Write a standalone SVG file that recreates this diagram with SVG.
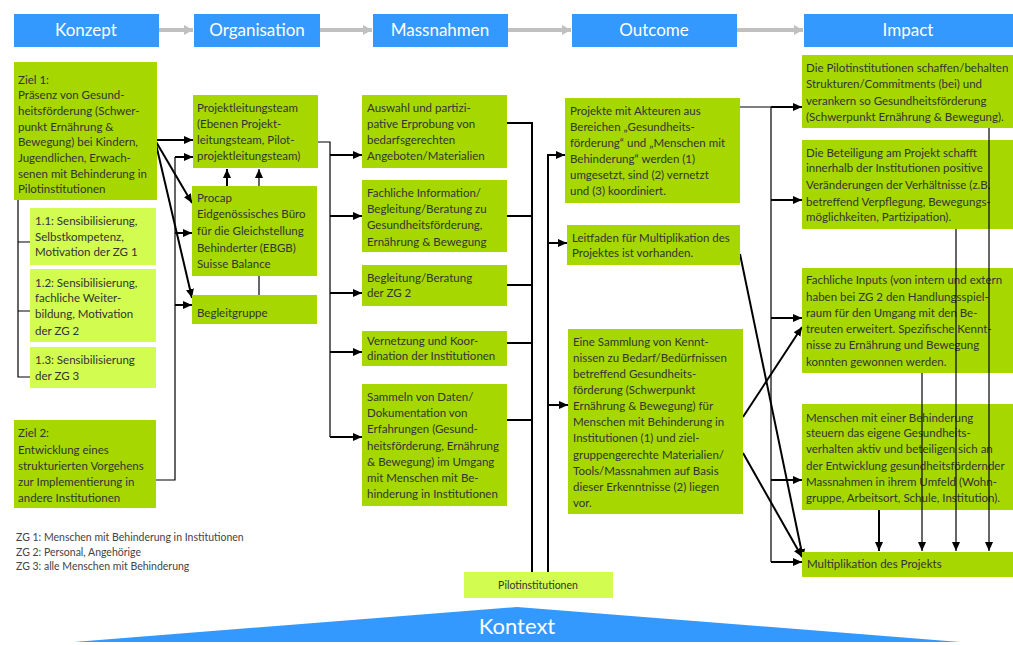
<svg xmlns="http://www.w3.org/2000/svg" width="1013" height="645" viewBox="0 0 1013 645">
<style>
.hd{fill:#3399ff}
.ht{fill:#fff;font-family:Lato,"Liberation Sans",sans-serif;font-size:17px;text-anchor:middle}
.g{fill:#a6d800}
.lg{fill:#d2fc50}
.t{fill:#333;font-family:Lato,"Liberation Sans",sans-serif;font-size:11.5px}
.lgd{fill:#444;font-family:Lato,"Liberation Sans",sans-serif;font-size:10.5px}
.c{fill:none;stroke:#000;stroke-width:2}
.th{fill:none;stroke:#000;stroke-width:1.2}
.ga{fill:none;stroke:#c0c0c0;stroke-width:4}
</style>
<defs>
<marker id="ah" markerUnits="userSpaceOnUse" markerWidth="10" markerHeight="10" refX="9" refY="5" orient="auto"><path d="M0,1 L9,5 L0,9 Z" fill="#000"/></marker>
<marker id="gh" markerUnits="userSpaceOnUse" markerWidth="10" markerHeight="12" refX="9" refY="6" orient="auto"><path d="M0,1 L9,6 L0,11 Z" fill="#c0c0c0"/></marker>
</defs>
<rect width="1013" height="645" fill="#fff"/>

<g id="header">
<rect class="hd" x="14" y="14" width="145" height="33"/><text class="ht" x="86" y="36">Konzept</text>
<rect class="hd" x="194" y="14" width="126" height="33"/><text class="ht" x="257" y="36">Organisation</text>
<rect class="hd" x="373" y="14" width="135" height="33"/><text class="ht" x="440" y="36">Massnahmen</text>
<rect class="hd" x="572" y="14" width="165" height="33"/><text class="ht" x="654" y="36">Outcome</text>
<rect class="hd" x="804" y="14" width="209" height="33"/><text class="ht" x="908" y="36">Impact</text>
<path class="ga" d="M159,30 H193" marker-end="url(#gh)"/>
<path class="ga" d="M320,30 H372" marker-end="url(#gh)"/>
<path class="ga" d="M508,30 H571" marker-end="url(#gh)"/>
<path class="ga" d="M737,30 H803" marker-end="url(#gh)"/>
</g>

<g id="connectors">
<path class="th" d="M18,200 V377 H30 M18,242 H30 M18,311 H30"/>
<path class="c" d="M155,140 H193" marker-end="url(#ah)"/>
<path class="c" d="M155,140 L192,203" marker-end="url(#ah)"/>
<path class="c" d="M155,140 L192,298" marker-end="url(#ah)"/>
<path class="th" d="M156,480 H175 V157"/>
<path class="c" d="M175,157 H193" marker-end="url(#ah)"/>
<path class="c" d="M175,233 H192" marker-end="url(#ah)"/>
<path class="c" d="M175,305 H192" marker-end="url(#ah)"/>
<path class="c" d="M227,186 V169" marker-end="url(#ah)"/>
<path class="th" d="M259,295 V169" marker-end="url(#ah)"/>
<path class="c" d="M299,273 V243" marker-end="url(#ah)"/>
<path class="th" d="M318,142 H330 V437"/>
<path class="c" d="M330,155 H362" marker-end="url(#ah)"/>
<path class="c" d="M330,216 H362" marker-end="url(#ah)"/>
<path class="c" d="M330,293 H362" marker-end="url(#ah)"/>
<path class="c" d="M330,352 H362" marker-end="url(#ah)"/>
<path class="c" d="M330,437 H362" marker-end="url(#ah)"/>
<path class="c" d="M507,123 H532 V572 M507,216 H532 M507,285 H532 M507,343 H532 M507,420 H532"/>
<path class="c" d="M548,572 V155 H565" marker-end="url(#ah)"/>
<path class="c" d="M548,243 H567" marker-end="url(#ah)"/>
<path class="c" d="M548,405 H568" marker-end="url(#ah)"/>
<path class="th" d="M740,107 H771 V562"/>
<path class="c" d="M771,107 H802" marker-end="url(#ah)"/>
<path class="c" d="M771,200 H802" marker-end="url(#ah)"/>
<path class="c" d="M771,318 H802" marker-end="url(#ah)"/>
<path class="c" d="M771,480 H802" marker-end="url(#ah)"/>
<path class="c" d="M771,562 H802" marker-end="url(#ah)"/>
<path class="c" d="M740,254 L803,558" marker-end="url(#ah)"/>
<path class="c" d="M743,417 L802,327" marker-end="url(#ah)"/>
<path class="c" d="M743,453 L802,557" marker-end="url(#ah)"/>
</g>

<g id="ziel1"><rect class="g" x="14" y="62" width="143" height="138"/>
<text class="t"><tspan x="18" y="84">Ziel 1:</tspan><tspan x="18" y="99">Präsenz von Gesund-</tspan><tspan x="18" y="115">heitsförderung (Schwer-</tspan><tspan x="18" y="131">punkt Ernährung &amp;</tspan><tspan x="18" y="146">Bewegung) bei Kindern,</tspan><tspan x="18" y="162">Jugendlichen, Erwach-</tspan><tspan x="18" y="178">senen mit Behinderung in</tspan><tspan x="18" y="193">Pilotinstitutionen</tspan></text></g>
<g id="z11"><rect class="lg" x="30" y="208" width="126" height="57"/>
<text class="t"><tspan x="35" y="225">1.1: Sensibilisierung,</tspan><tspan x="35" y="241">Selbstkompetenz,</tspan><tspan x="35" y="256">Motivation der ZG 1</tspan></text></g>
<g id="z12"><rect class="lg" x="30" y="269" width="126" height="73"/>
<text class="t"><tspan x="35" y="287">1.2: Sensibilisierung,</tspan><tspan x="35" y="302">fachliche Weiter-</tspan><tspan x="35" y="318">bildung, Motivation</tspan><tspan x="35" y="335">der ZG 2</tspan></text></g>
<g id="z13"><rect class="lg" x="30" y="347" width="126" height="41"/>
<text class="t"><tspan x="35" y="364">1.3: Sensibilisierung</tspan><tspan x="35" y="380">der ZG 3</tspan></text></g>
<g id="ziel2"><rect class="g" x="14" y="420" width="142" height="88"/>
<text class="t"><tspan x="18" y="437">Ziel 2:</tspan><tspan x="18" y="454">Entwicklung eines</tspan><tspan x="18" y="470">strukturierten Vorgehens</tspan><tspan x="18" y="486">zur Implementierung in</tspan><tspan x="18" y="502">andere Institutionen</tspan></text></g>

<g id="plt"><rect class="g" x="193" y="95" width="125" height="73"/>
<text class="t"><tspan x="197" y="112">Projektleitungsteam</tspan><tspan x="197" y="128">(Ebenen Projekt-</tspan><tspan x="197" y="144">leitungsteam, Pilot-</tspan><tspan x="197" y="160">projektleitungsteam)</tspan></text></g>
<g id="procap"><rect class="g" x="192" y="186" width="125" height="90"/>
<text class="t"><tspan x="197" y="202">Procap</tspan><tspan x="197" y="218">Eidgenössisches Büro</tspan><tspan x="197" y="235">für die Gleichstellung</tspan><tspan x="197" y="252">Behinderter (EBGB)</tspan><tspan x="197" y="268">Suisse Balance</tspan></text></g>
<g id="begleit"><rect class="g" x="192" y="295" width="125" height="29"/>
<text class="t"><tspan x="197" y="317">Begleitgruppe</tspan></text></g>

<g id="m1"><rect class="g" x="362" y="95" width="145" height="73"/>
<text class="t"><tspan x="367" y="112">Auswahl und partizi-</tspan><tspan x="367" y="128">pative Erprobung von</tspan><tspan x="367" y="144">bedarfsgerechten</tspan><tspan x="367" y="160">Angeboten/Materialien</tspan></text></g>
<g id="m2"><rect class="g" x="362" y="180" width="145" height="72"/>
<text class="t"><tspan x="367" y="197">Fachliche Information/</tspan><tspan x="367" y="213">Begleitung/Beratung zu</tspan><tspan x="367" y="229">Gesundheitsförderung,</tspan><tspan x="367" y="246">Ernährung &amp; Bewegung</tspan></text></g>
<g id="m3"><rect class="g" x="362" y="265" width="145" height="41"/>
<text class="t"><tspan x="367" y="282">Begleitung/Beratung</tspan><tspan x="367" y="297">der ZG 2</tspan></text></g>
<g id="m4"><rect class="g" x="362" y="331" width="145" height="35"/>
<text class="t"><tspan x="367" y="345">Vernetzung und Koor-</tspan><tspan x="367" y="360">dination der Institutionen</tspan></text></g>
<g id="m5"><rect class="g" x="362" y="384" width="145" height="122"/>
<text class="t"><tspan x="367" y="401">Sammeln von Daten/</tspan><tspan x="367" y="417">Dokumentation von</tspan><tspan x="367" y="433">Erfahrungen (Gesund-</tspan><tspan x="367" y="450">heitsförderung, Ernährung</tspan><tspan x="367" y="466">&amp; Bewegung) im Umgang</tspan><tspan x="367" y="482">mit Menschen mit Be-</tspan><tspan x="367" y="498">hinderung in Institutionen</tspan></text></g>

<g id="o1"><rect class="g" x="565" y="98" width="175" height="105"/>
<text class="t"><tspan x="570" y="115">Projekte mit Akteuren aus</tspan><tspan x="570" y="131">Bereichen „Gesundheits-</tspan><tspan x="570" y="147">förderung“ und „Menschen mit</tspan><tspan x="570" y="163">Behinderung“ werden (1)</tspan><tspan x="570" y="179">umgesetzt, sind (2) vernetzt</tspan><tspan x="570" y="195">und (3) koordiniert.</tspan></text></g>
<g id="o2"><rect class="g" x="567" y="225" width="173" height="40"/>
<text class="t"><tspan x="572" y="242">Leitfaden für Multiplikation des</tspan><tspan x="572" y="257">Projektes ist vorhanden.</tspan></text></g>
<g id="o3"><rect class="g" x="568" y="329" width="175" height="185"/>
<text class="t"><tspan x="573" y="346">Eine Sammlung von Kennt-</tspan><tspan x="573" y="362">nissen zu Bedarf/Bedürfnissen</tspan><tspan x="573" y="378">betreffend Gesundheits-</tspan><tspan x="573" y="394">förderung (Schwerpunkt</tspan><tspan x="573" y="410">Ernährung &amp; Bewegung) für</tspan><tspan x="573" y="426">Menschen mit Behinderung in</tspan><tspan x="573" y="442">Institutionen (1) und ziel-</tspan><tspan x="573" y="459">gruppengerechte Materialien/</tspan><tspan x="573" y="475">Tools/Massnahmen auf Basis</tspan><tspan x="573" y="491">dieser Erkenntnisse (2) liegen</tspan><tspan x="573" y="507">vor.</tspan></text></g>

<g id="i1"><rect class="g" x="802" y="55" width="211" height="73"/>
<text class="t"><tspan x="806" y="72">Die Pilotinstitutionen schaffen/behalten</tspan><tspan x="806" y="88">Strukturen/Commitments (bei) und</tspan><tspan x="806" y="105">verankern so Gesundheitsförderung</tspan><tspan x="806" y="121">(Schwerpunkt Ernährung &amp; Bewegung).</tspan></text></g>
<g id="i2"><rect class="g" x="802" y="140" width="211" height="89"/>
<text class="t"><tspan x="806" y="157">Die Beteiligung am Projekt schafft</tspan><tspan x="806" y="172">innerhalb der Institutionen positive</tspan><tspan x="806" y="189">Veränderungen der Verhältnisse (z.B.</tspan><tspan x="806" y="206">betreffend Verpflegung, Bewegungs-</tspan><tspan x="806" y="221">möglichkeiten, Partizipation).</tspan></text></g>
<g id="i3"><rect class="g" x="802" y="268" width="211" height="105"/>
<text class="t"><tspan x="806" y="284">Fachliche Inputs (von intern und extern</tspan><tspan x="806" y="301">haben bei ZG 2 den Handlungsspiel-</tspan><tspan x="806" y="317">raum für den Umgang mit den Be-</tspan><tspan x="806" y="333">treuten erweitert. Spezifische Kennt-</tspan><tspan x="806" y="349">nisse zu Ernährung und Bewegung</tspan><tspan x="806" y="366">konnten gewonnen werden.</tspan></text></g>
<g id="i4"><rect class="g" x="802" y="404" width="211" height="106"/>
<text class="t"><tspan x="806" y="422">Menschen mit einer Behinderung</tspan><tspan x="806" y="437">steuern das eigene Gesundheits-</tspan><tspan x="806" y="453">verhalten aktiv und beteiligen sich an</tspan><tspan x="806" y="470">der Entwicklung gesundheitsfördernder</tspan><tspan x="806" y="486">Massnahmen in ihrem Umfeld (Wohn-</tspan><tspan x="806" y="502">gruppe, Arbeitsort, Schule, Institution).</tspan></text></g>
<g id="i5"><rect class="g" x="802" y="552" width="211" height="25"/>
<text class="t"><tspan x="807" y="568">Multiplikation des Projekts</tspan></text></g>

<g id="impact-arrows">
<path class="th" d="M989,128 V551" marker-end="url(#ah)"/>
<path class="th" d="M956,229 V551" marker-end="url(#ah)"/>
<path class="th" d="M922,373 V551" marker-end="url(#ah)"/>
<path class="c" d="M879,510 V551" marker-end="url(#ah)"/>
</g>

<g id="pilot"><rect class="lg" x="464" y="572" width="149" height="26"/>
<text class="t" x="538" y="589" text-anchor="middle" style="font-size:10.5px">Pilotinstitutionen</text></g>

<g id="legend">
<text class="lgd" x="16" y="541">ZG 1: Menschen mit Behinderung in Institutionen</text>
<text class="lgd" x="16" y="556">ZG 2: Personal, Angehörige</text>
<text class="lgd" x="16" y="570">ZG 3: alle Menschen mit Behinderung</text>
</g>

<g id="kontext">
<polygon points="74,642 517,607 960,642" fill="#3399ff"/>
<text class="ht" x="517" y="634" style="font-size:22px">Kontext</text>
</g>
</svg>
